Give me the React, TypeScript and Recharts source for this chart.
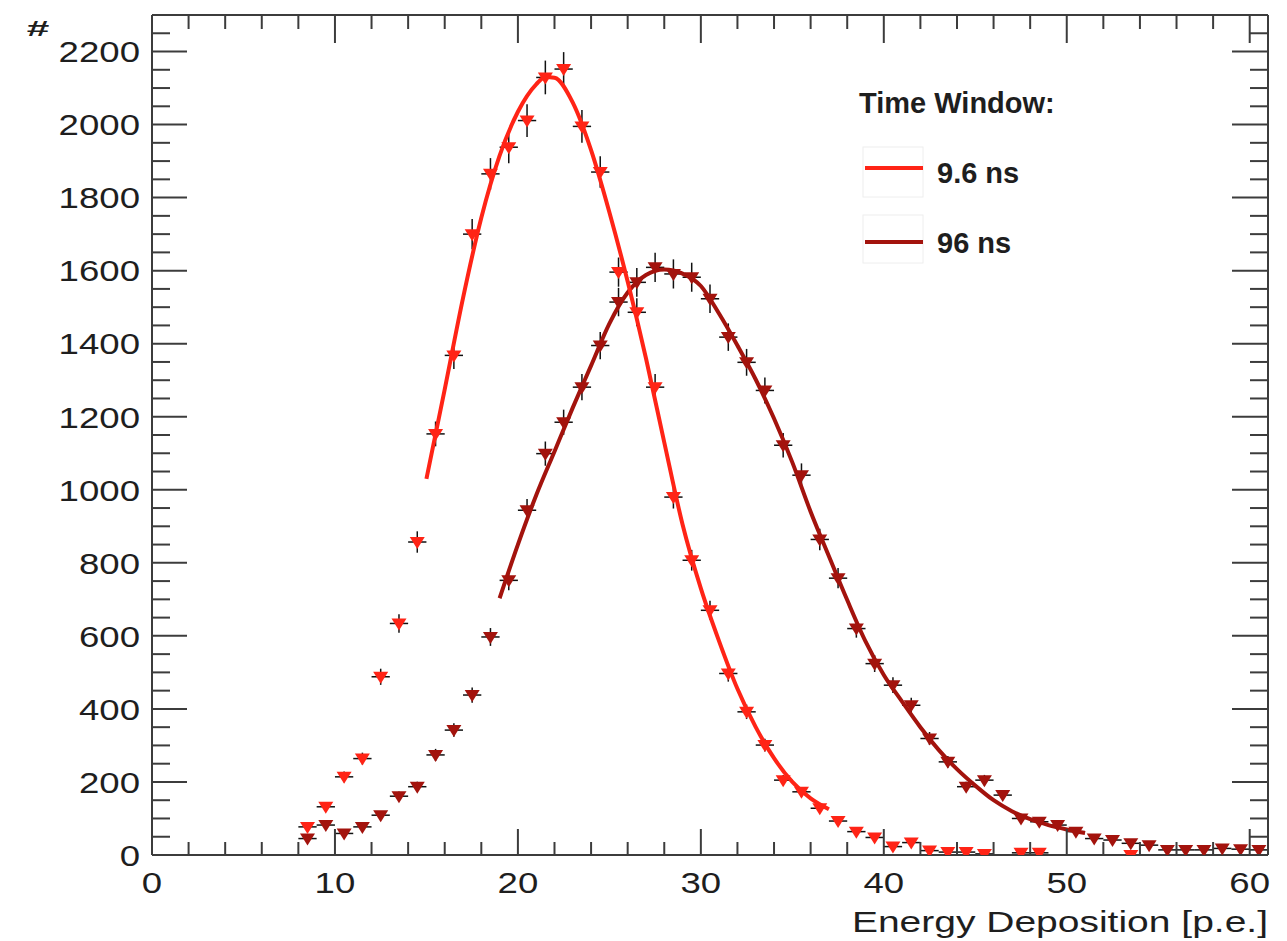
import React from 'react';
import { ComposedChart, XAxis, YAxis, Scatter, Line, ErrorBar } from 'recharts';

// bin centres of the histogram, p.e.
const BIN_CENTERS = [
  8.5, 9.5, 10.5, 11.5, 12.5, 13.5, 14.5, 15.5, 16.5, 17.5, 18.5, 19.5, 20.5, 21.5, 22.5, 23.5, 24.5, 25.5,
  26.5, 27.5, 28.5, 29.5, 30.5, 31.5, 32.5, 33.5, 34.5, 35.5, 36.5, 37.5, 38.5, 39.5, 40.5, 41.5, 42.5,
  43.5, 44.5, 45.5, 46.5, 47.5, 48.5, 49.5, 50.5, 51.5, 52.5, 53.5, 54.5, 55.5, 56.5, 57.5, 58.5, 59.5, 60.5,
];

// 9.6 ns window (null = empty bin, not drawn)
const RED_COUNTS = [
  77, 132, 214, 264, 488, 634, 857, 1153, 1368, 1700, 1865, 1938, 2011, 2129, 2152, 1995, 1870, 1596,
  1486, 1281, 980, 807, 670, 497, 392, 301, 205, 173, 128, 93, 64, 48, 23, 34, 12,
  8, 8, 3, null, 6, 6, null, null, null, null, 0, null, null, null, null, null, null, null,
];

// 96 ns window
const DARK_COUNTS = [
  45, 82, 59, 77, 109, 161, 187, 274, 342, 438, 597, 752, 944, 1099, 1185, 1281, 1395, 1514,
  1568, 1609, 1591, 1582, 1523, 1418, 1349, 1272, 1122, 1040, 864, 758, 620, 524, 465, 410, 319,
  255, 187, 205, 164, 100, 91, 82, 64, 45, 41, 32, 27, 14, 14, 14, 18, 16, 14,
];

// fitted curves
const RED_FIT_X = [15, 16, 17, 18, 19, 20, 21, 21.5, 22, 23, 24, 25, 26, 27, 28, 29, 30, 31, 32, 33, 34, 35, 36, 37];
const RED_FIT_Y = [1030, 1275, 1525, 1745, 1915, 2035, 2110, 2130, 2128, 2060, 1930, 1760, 1570, 1360, 1130, 905, 730, 585, 455, 350, 265, 200, 155, 125];

const DARK_FIT_X = [19, 20, 21, 22, 23, 24, 25, 26, 27, 28, 29, 30, 31, 32, 33, 34, 35, 36, 37, 38, 39, 40, 41, 42, 43, 44, 45, 46, 47, 48, 49, 50, 51];
const DARK_FIT_Y = [703, 850, 985, 1105, 1225, 1340, 1455, 1540, 1588, 1603, 1592, 1558, 1482, 1395, 1302, 1195, 1075, 940, 818, 698, 585, 493, 420, 350, 288, 235, 190, 150, 120, 98, 82, 70, 60];

const X_MAJOR = [0, 10, 20, 30, 40, 50, 60];
const Y_MAJOR = [0, 200, 400, 600, 800, 1000, 1200, 1400, 1600, 1800, 2000, 2200];
const X_TICKS = Array.from({ length: 31 }, (_, i) => i * 2);
const Y_TICKS = Array.from({ length: 46 }, (_, i) => i * 50);

const SERIES_NAMES = ['9.6 ns', '96 ns'];
const LEGEND_TITLE = 'Time Window:';
const X_TITLE = 'Energy Deposition [p.e.]';
const Y_TITLE = '#';

const RED = '#ff2416';
const DARK = '#a3130d';
const AXIS = '#3c3c3c';
const TEXT = '#1e1e1e';
const FONT = '"Liberation Sans", Arial, Helvetica, sans-serif';

const toPoints = (counts: (number | null)[]) =>
  BIN_CENTERS.map((x, i) => ({ x, y: counts[i], ex: 0.5, ey: counts[i] ? Math.sqrt(counts[i] as number) : 0 }))
    .filter((p) => p.y !== null);

const toCurve = (xs: number[], ys: number[]) => xs.map((x, i) => ({ x, y: ys[i] }));

const redPoints = toPoints(RED_COUNTS);
const darkPoints = toPoints(DARK_COUNTS);
const redFit = toCurve(RED_FIT_X, RED_FIT_Y);
const darkFit = toCurve(DARK_FIT_X, DARK_FIT_Y);

const Tri = ({ cx, cy, fill }: any) => {
  if (cx == null || cy == null) return null;
  return <polygon points={`${cx - 7.5},${cy - 5} ${cx + 7.5},${cy - 5} ${cx},${cy + 7}`} fill={fill} />;
};

const LeftTick = ({ x, y, payload }: any) => {
  const major = Y_MAJOR.includes(payload.value);
  return (
    <g>
      <line x1={x} x2={x + (major ? 35 : 18)} y1={y} y2={y} stroke={AXIS} strokeWidth={2} />
      {major && (
        <text
          transform={`translate(${x - 12},${y}) scale(1.22,1)`}
          textAnchor="end"
          dy="0.36em"
          fontSize={30}
          fill={TEXT}
          fontFamily={FONT}
        >
          {payload.value}
        </text>
      )}
    </g>
  );
};

const RightTick = ({ x, y, payload }: any) => {
  const major = Y_MAJOR.includes(payload.value);
  return <line x1={x} x2={x - (major ? 36 : 18)} y1={y} y2={y} stroke={AXIS} strokeWidth={2} />;
};

const BottomTick = ({ x, y, payload }: any) => {
  const major = X_MAJOR.includes(payload.value);
  return (
    <g>
      <line x1={x} x2={x} y1={y} y2={y - (major ? 26 : 13)} stroke={AXIS} strokeWidth={2} />
      {major && (
        <text
          transform={`translate(${x},${y + 38}) scale(1.22,1)`}
          textAnchor="middle"
          fontSize={30}
          fill={TEXT}
          fontFamily={FONT}
        >
          {payload.value}
        </text>
      )}
    </g>
  );
};

const TopTick = ({ x, y, payload }: any) => {
  const major = X_MAJOR.includes(payload.value);
  return <line x1={x} x2={x} y1={y} y2={y + (major ? 28 : 14)} stroke={AXIS} strokeWidth={2} />;
};

const axisLine = { stroke: AXIS, strokeWidth: 2 };

export default function App() {
  return (
    <div style={{ position: 'relative', width: 1287, height: 941, background: '#fff' }}>
      <style>{'body{margin:0;background:#fff}'}</style>
      <ComposedChart width={1287} height={941} margin={{ top: 14, right: 18, bottom: 0, left: 0 }}>
        <XAxis
          xAxisId="b"
          dataKey="x"
          type="number"
          domain={[0, 61]}
          allowDataOverflow
          ticks={X_TICKS}
          interval={0}
          tickSize={0}
          tickMargin={0}
          tickLine={false}
          axisLine={axisLine}
          height={86}
          tick={BottomTick}
        />
        <XAxis
          xAxisId="t"
          orientation="top"
          dataKey="x"
          type="number"
          domain={[0, 61]}
          allowDataOverflow
          ticks={X_TICKS}
          interval={0}
          tickSize={0}
          tickMargin={0}
          tickLine={false}
          axisLine={axisLine}
          height={1}
          tick={TopTick}
        />
        <YAxis
          yAxisId="l"
          dataKey="y"
          type="number"
          domain={[0, 2300]}
          allowDataOverflow
          ticks={Y_TICKS}
          interval={0}
          tickSize={0}
          tickMargin={0}
          tickLine={false}
          axisLine={axisLine}
          width={152}
          tick={LeftTick}
        />
        <YAxis
          yAxisId="r"
          orientation="right"
          dataKey="y"
          type="number"
          domain={[0, 2300]}
          allowDataOverflow
          ticks={Y_TICKS}
          interval={0}
          tickSize={0}
          tickMargin={0}
          tickLine={false}
          axisLine={axisLine}
          width={1}
          tick={RightTick}
        />
        <Scatter
          xAxisId="b"
          yAxisId="l"
          data={darkPoints}
          dataKey="y"
          fill={DARK}
          shape={(p: any) => <Tri cx={p.cx} cy={p.cy} fill={DARK} />}
          isAnimationActive={false}
        >
          <ErrorBar dataKey="ey" direction="y" width={0} stroke="#111" strokeWidth={1.5} />
          <ErrorBar dataKey="ex" direction="x" width={0} stroke="#111" strokeWidth={1.5} />
        </Scatter>
        <Scatter
          xAxisId="b"
          yAxisId="l"
          data={redPoints}
          dataKey="y"
          fill={RED}
          shape={(p: any) => <Tri cx={p.cx} cy={p.cy} fill={RED} />}
          isAnimationActive={false}
        >
          <ErrorBar dataKey="ey" direction="y" width={0} stroke="#111" strokeWidth={1.5} />
          <ErrorBar dataKey="ex" direction="x" width={0} stroke="#111" strokeWidth={1.5} />
        </Scatter>
        <Line
          xAxisId="b"
          yAxisId="l"
          data={darkFit}
          dataKey="y"
          type="monotone"
          stroke={DARK}
          strokeWidth={4}
          dot={false}
          activeDot={false}
          isAnimationActive={false}
        />
        <Line
          xAxisId="b"
          yAxisId="l"
          data={redFit}
          dataKey="y"
          type="monotone"
          stroke={RED}
          strokeWidth={4}
          dot={false}
          activeDot={false}
          isAnimationActive={false}
        />
      </ComposedChart>

      {/* axis titles and legend */}
      <svg width={1287} height={941} style={{ position: 'absolute', left: 0, top: 0, pointerEvents: 'none' }}>
        <text transform="translate(1268,932) scale(1.3,1)" textAnchor="end" fontSize={30} fill={TEXT} fontFamily={FONT}>
          {X_TITLE}
        </text>
        <text
          transform="translate(38,36) scale(1.45,0.8)"
          textAnchor="middle"
          fontSize={28}
          fontWeight="bold"
          fill={TEXT}
          fontFamily={FONT}
        >
          {Y_TITLE}
        </text>
        <text x={859} y={113} fontSize={29} fontWeight="bold" fill={TEXT} fontFamily={FONT}>
          {LEGEND_TITLE}
        </text>
        <rect x={863} y={147} width={60} height={50} fill="none" stroke="#eee" />
        <rect x={863} y={215} width={60} height={48} fill="none" stroke="#eee" />
        <line x1={865} x2={923} y1={168} y2={168} stroke={RED} strokeWidth={4} />
        <line x1={865} x2={923} y1={242} y2={242} stroke={DARK} strokeWidth={4} />
        <text x={937} y={183} fontSize={29} fontWeight="bold" fill={TEXT} fontFamily={FONT}>
          {SERIES_NAMES[0]}
        </text>
        <text x={937} y={253} fontSize={29} fontWeight="bold" fill={TEXT} fontFamily={FONT}>
          {SERIES_NAMES[1]}
        </text>
      </svg>
    </div>
  );
}
